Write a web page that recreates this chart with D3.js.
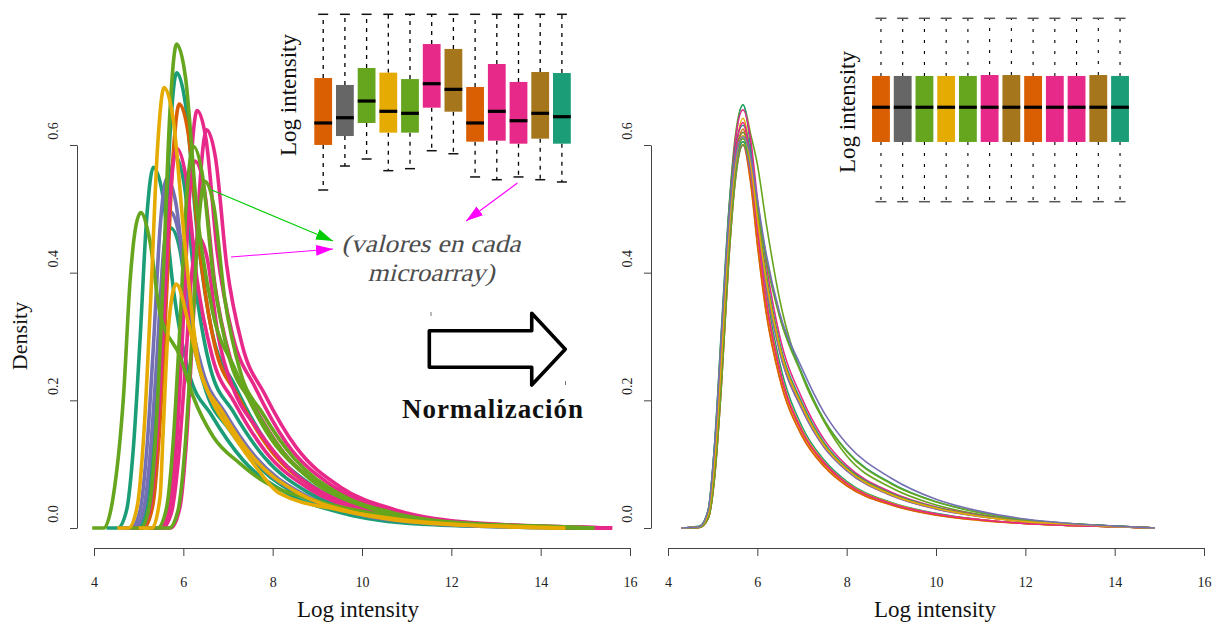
<!DOCTYPE html>
<html>
<head>
<meta charset="utf-8">
<script src="https://cdn.jsdelivr.net/npm/d3@7"></script>
<style>
  body { margin: 0; background: #fff; }
  svg { display: block; }
  text { font-family: "Liberation Serif", "DejaVu Serif", serif; }
</style>
</head>
<body>
<svg id="chart" width="1221" height="623"></svg>
<script>
// ---- data ----
const xTicks = [4, 6, 8, 10, 12, 14, 16];
const yTicks = [0, 0.2, 0.4, 0.6];

// raw densities, one knot list per microarray (drawn in this order)
const rawColors = ["#1B9E77", "#1B9E77", "#7570B3", "#1B9E77", "#7570B3", "#1B9E77", "#D95F02",
  "#E7298A", "#E7298A", "#E7298A", "#E7298A", "#E7298A",
  "#66A61E", "#66A61E", "#66A61E", "#66A61E", "#E6AB02", "#E6AB02"];
const rawX = [
  [4.28, 4.53, 4.73, 4.88, 5.03, 5.18, 5.33, 5.53, 5.78, 6.13, 6.63, 7.33, 8.33, 9.53, 11.33, 13.33, 14.9],
  [4.67, 4.92, 5.12, 5.27, 5.42, 5.57, 5.72, 5.92, 6.17, 6.52, 7.02, 7.72, 8.72, 9.92, 11.72, 13.72, 14.9],
  [4.65, 4.90, 5.10, 5.25, 5.40, 5.55, 5.70, 5.90, 6.15, 6.50, 7.00, 7.70, 8.70, 9.90, 11.70, 13.70, 14.8],
  [4.76, 5.01, 5.21, 5.36, 5.51, 5.66, 5.81, 6.01, 6.26, 6.61, 7.11, 7.81, 8.81, 10.01, 11.81, 13.81, 14.9],
  [4.58, 4.83, 5.03, 5.18, 5.33, 5.48, 5.63, 5.83, 6.08, 6.43, 6.93, 7.63, 8.63, 9.83, 11.63, 13.63, 14.8],
  [4.80, 5.05, 5.25, 5.40, 5.55, 5.70, 5.85, 6.05, 6.30, 6.65, 7.15, 7.85, 8.85, 10.05, 11.85, 13.85, 14.9],
  [4.86, 5.11, 5.31, 5.46, 5.61, 5.76, 5.91, 6.11, 6.36, 6.71, 7.21, 7.91, 8.91, 10.11, 11.91, 13.91, 14.7],
  [5.28, 5.53, 5.73, 5.88, 6.03, 6.18, 6.33, 6.53, 6.78, 7.13, 7.63, 8.33, 9.33, 10.53, 12.33, 14.33, 15.6],
  [4.80, 5.05, 5.25, 5.40, 5.55, 5.70, 5.85, 6.05, 6.30, 6.65, 7.15, 7.85, 8.85, 10.05, 11.85, 13.85, 15.4],
  [5.21, 5.46, 5.66, 5.81, 5.96, 6.11, 6.26, 6.46, 6.71, 7.06, 7.56, 8.26, 9.26, 10.46, 12.26, 14.26, 15.6],
  [5.47, 5.72, 5.92, 6.07, 6.22, 6.37, 6.52, 6.72, 6.97, 7.32, 7.82, 8.52, 9.52, 10.72, 12.52, 14.52, 15.6],
  [5.26, 5.51, 5.71, 5.86, 6.01, 6.16, 6.31, 6.51, 6.76, 7.11, 7.61, 8.31, 9.31, 10.51, 12.31, 14.31, 15.6],
  [3.96, 4.22, 4.43, 4.66, 4.81, 4.93, 5.05, 5.25, 5.48, 5.93, 6.22, 6.67, 7.27, 7.87, 8.91, 10.5, 12.5, 15.2],
  [4.80, 5.05, 5.25, 5.40, 5.55, 5.70, 5.85, 6.05, 6.30, 6.65, 7.15, 7.85, 8.85, 10.05, 11.85, 13.85, 15.2],
  [5.17, 5.42, 5.62, 5.77, 5.92, 6.07, 6.22, 6.42, 6.67, 7.02, 7.52, 8.22, 9.22, 10.42, 12.22, 14.22, 15.2],
  [5.43, 5.68, 5.88, 6.03, 6.18, 6.33, 6.48, 6.68, 6.93, 7.28, 7.78, 8.48, 9.48, 10.68, 12.48, 14.48, 15.2],
  [4.52, 4.77, 4.97, 5.12, 5.27, 5.42, 5.57, 5.77, 6.02, 6.37, 6.87, 7.57, 8.57, 9.77, 11.57, 13.57, 14.55],
  [5.0, 5.3, 5.48, 5.55, 5.66, 5.84, 6.15, 6.37, 6.67, 7.04, 7.57, 8.16, 9.51, 11.0, 12.5, 14.55]
];
const rawY = [
  [0, 0, .028, .124, .294, .486, .565, .525, .373, .242, .177, .107, .054, .024, .006, .002, 0],
  [0, 0, .024, .103, .244, .404, .470, .437, .310, .212, .155, .094, .047, .021, .006, .001, 0],
  [0, 0, .025, .109, .258, .427, .496, .461, .327, .223, .164, .099, .050, .022, .006, .001, 0],
  [0, 0, .029, .128, .303, .501, .583, .542, .385, .249, .183, .111, .055, .025, .007, .002, 0],
  [0, 0, .027, .121, .285, .471, .548, .510, .362, .247, .181, .110, .055, .025, .007, .002, 0],
  [0, 0, .036, .157, .371, .613, .713, .663, .471, .305, .224, .135, .068, .030, .008, .002, 0],
  [0, 0, .033, .146, .345, .571, .664, .618, .438, .284, .208, .126, .063, .028, .008, .002, 0],
  [0, 0, .023, .100, .237, .392, .456, .424, .301, .216, .158, .096, .048, .022, .006, .001, 0],
  [0, 0, .030, .131, .309, .512, .595, .553, .393, .268, .196, .119, .060, .027, .007, .002, 0],
  [0, 0, .029, .127, .299, .495, .575, .535, .380, .264, .194, .117, .059, .026, .007, .002, 0],
  [0, 0, .031, .137, .324, .537, .624, .580, .412, .286, .210, .127, .064, .029, .008, .002, 0],
  [0, 0, .033, .144, .340, .562, .654, .608, .432, .300, .220, .133, .067, .030, .008, .002, 0],
  [0, 0, .049, .206, .389, .470, .494, .450, .336, .268, .206, .143, .101, .070, .044, .020, .006, 0],
  [0, 0, .038, .167, .394, .652, .758, .705, .500, .341, .250, .152, .076, .034, .009, .002, 0],
  [0, 0, .030, .132, .311, .514, .598, .556, .395, .269, .197, .120, .060, .027, .007, .002, 0],
  [0, 0, .027, .119, .282, .467, .543, .505, .358, .244, .179, .109, .054, .024, .007, .002, 0],
  [0, 0, .035, .152, .359, .593, .690, .642, .455, .248, .182, .110, .055, .025, .007, .002, 0],
  [0, 0, .049, .154, .310, .382, .310, .248, .195, .154, .101, .054, .028, .012, .004, 0]
];

// normalized densities, all on one grid
const normGrid = [4.3, 4.7, 4.9, 5.05, 5.2, 5.35, 5.5, 5.68, 5.85, 6.0, 6.2, 6.5, 7.0, 7.5, 8.0, 9.0, 10.0, 11.0, 12.0, 13.0, 14.0, 14.9];
const normColors = ["#66A61E", "#1B9E77", "#E7298A", "#E6AB02", "#1B9E77", "#D95F02", "#E7298A", "#66A61E",
  "#E6AB02", "#D95F02", "#E7298A", "#1B9E77", "#66A61E", "#7570B3", "#E7298A", "#66A61E", "#E6AB02", "#7570B3"];
const normY = [
  [0, .002, .023, .119, .292, .484, .610, .663, .617, .570, .477, .358, .239, .166, .113, .063, .036, .021, .011, .006, .003, 0],
  [0, .001, .017, .093, .252, .451, .597, .663, .597, .491, .371, .259, .159, .106, .073, .040, .023, .013, .007, .004, .002, 0],
  [0, .002, .023, .118, .288, .478, .603, .655, .609, .517, .413, .301, .203, .138, .098, .056, .033, .020, .011, .006, .003, 0],
  [0, .001, .016, .090, .244, .437, .578, .642, .578, .475, .360, .250, .154, .103, .071, .039, .022, .013, .007, .004, .002, 0],
  [0, .003, .028, .139, .316, .486, .593, .631, .587, .498, .398, .290, .196, .133, .095, .054, .032, .019, .011, .006, .003, 0],
  [0, .001, .016, .088, .238, .425, .563, .625, .563, .463, .350, .244, .150, .100, .069, .038, .021, .013, .007, .004, .002, 0],
  [0, .002, .022, .112, .273, .453, .570, .620, .577, .490, .391, .285, .192, .130, .093, .053, .031, .019, .011, .006, .002, 0],
  [0, .002, .021, .110, .268, .445, .561, .610, .567, .482, .384, .281, .189, .128, .092, .052, .031, .018, .010, .005, .002, 0],
  [0, .001, .015, .085, .230, .411, .545, .605, .545, .448, .339, .236, .145, .097, .067, .036, .021, .012, .007, .004, .002, 0],
  [0, .002, .021, .108, .264, .438, .552, .600, .540, .444, .336, .234, .144, .096, .066, .036, .020, .012, .007, .004, .002, 0],
  [0, .001, .015, .084, .228, .408, .540, .600, .558, .474, .378, .276, .186, .126, .090, .051, .030, .018, .010, .005, .002, 0],
  [0, .002, .027, .133, .303, .466, .569, .605, .575, .508, .424, .333, .242, .169, .121, .070, .041, .024, .013, .007, .003, 0],
  [0, .002, .028, .136, .310, .477, .583, .620, .577, .490, .391, .285, .192, .130, .093, .053, .031, .019, .011, .006, .002, 0],
  [0, .002, .021, .108, .264, .438, .552, .600, .558, .474, .378, .276, .186, .126, .090, .051, .030, .018, .010, .005, .002, 0],
  [0, .002, .022, .114, .279, .464, .584, .635, .572, .470, .356, .248, .152, .102, .070, .038, .022, .013, .007, .004, .002, 0],
  [0, .001, .015, .084, .228, .408, .540, .600, .570, .504, .420, .330, .240, .168, .120, .069, .041, .024, .013, .007, .003, 0],
  [0, .002, .022, .111, .271, .449, .566, .615, .572, .486, .387, .283, .191, .129, .092, .052, .031, .018, .010, .006, .002, 0],
  [0, .002, .028, .135, .307, .472, .576, .613, .582, .515, .429, .337, .250, .180, .132, .078, .045, .026, .014, .007, .003, 0]
];

// inset boxplots (log intensity), 12 arrays
const boxColors = ["#D95F02", "#666666", "#66A61E", "#E6AB02", "#66A61E", "#E7298A",
  "#A6761D", "#D95F02", "#E7298A", "#E7298A", "#A6761D", "#1B9E77"];
const rawLow = [2.0, 3.91, 4.47, 3.54, 3.70, 5.13, 4.89, 3.04, 2.82, 3.04, 2.82, 2.64];
const rawQ1 = [5.59, 6.30, 7.34, 6.57, 6.57, 8.56, 8.24, 5.85, 5.93, 5.69, 6.09, 5.69];
const rawMed = [7.34, 7.76, 9.09, 8.27, 8.11, 10.47, 10.02, 7.34, 8.27, 7.52, 8.11, 7.84];
const rawQ3 = [10.92, 10.37, 11.72, 11.35, 10.84, 13.63, 13.24, 10.21, 12.04, 10.61, 11.40, 11.32];
const rawHigh = [16, 16, 16, 16, 16, 16, 16, 16, 16, 16, 16, 16];
const normLow = [2, 2, 2, 2, 2, 2, 2, 2, 2, 2, 2, 2];
const normQ1 = [6.56, 6.56, 6.56, 6.56, 6.56, 6.56, 6.56, 6.56, 6.56, 6.56, 6.56, 6.56];
const normMed = [9.21, 9.21, 9.21, 9.21, 9.21, 9.21, 9.21, 9.21, 9.21, 9.21, 9.21, 9.21];
const normQ3 = [11.6, 11.6, 11.6, 11.6, 11.6, 11.67, 11.67, 11.6, 11.6, 11.6, 11.67, 11.6];
const normHigh = [16, 16, 16, 16, 16, 16, 16, 16, 16, 16, 16, 16];

// ---- drawing ----
const svg = d3.select("#chart");
const axisColor = "#444";

const y = d3.scaleLinear().domain([0, 0.6]).range([528, 145]);
const xL = d3.scaleLinear().domain([4, 16]).range([94, 630]);
const xR = d3.scaleLinear().domain([4, 16]).range([668, 1204]);

function drawAxes(x, axisX, titleX) {
  const gx = svg.append("g")
    .attr("transform", "translate(0,548)")
    .call(d3.axisBottom(x).tickValues(xTicks).tickSize(8).tickSizeOuter(0).tickPadding(21).tickFormat(d3.format("d")));
  gx.select(".domain").attr("stroke", axisColor);
  gx.selectAll(".tick line").attr("stroke", axisColor);
  gx.selectAll(".tick text").attr("font-size", 14).attr("fill", "#222")
    .attr("font-family", "Liberation Serif");

  const gy = svg.append("g")
    .attr("transform", `translate(${axisX},0)`)
    .call(d3.axisLeft(y).tickValues(yTicks).tickSize(7).tickSizeOuter(0).tickFormat(""));
  gy.select(".domain").attr("stroke", axisColor);
  gy.selectAll(".tick line").attr("stroke", axisColor);

  svg.append("g").selectAll("text")
    .data(yTicks)
    .join("text")
    .attr("transform", (d) => `translate(${axisX - 19},${y(d) - 14}) rotate(-90)`)
    .attr("text-anchor", "middle")
    .attr("font-size", 14)
    .attr("fill", "#222")
    .text((d) => d.toFixed(1));

  svg.append("text")
    .attr("x", titleX)
    .attr("y", 617)
    .attr("text-anchor", "middle")
    .attr("font-size", 23)
    .attr("fill", "#111")
    .text("Log intensity");
}

drawAxes(xL, 77, 358);
drawAxes(xR, 651, 935);

svg.append("text")
  .attr("transform", "translate(27,336) rotate(-90)")
  .attr("text-anchor", "middle")
  .attr("font-size", 22)
  .attr("fill", "#111")
  .text("Density");

// density curves
const lineL = d3.line().x((d) => xL(d[0])).y((d) => y(d[1])).curve(d3.curveMonotoneX);
const lineR = d3.line().x((d) => xR(d[0])).y((d) => y(d[1])).curve(d3.curveMonotoneX);

svg.append("g")
  .selectAll("path")
  .data(rawX.map((xs, i) => xs.map((v, j) => [v, rawY[i][j]])))
  .join("path")
  .attr("d", lineL)
  .attr("fill", "none")
  .attr("stroke", (d, i) => rawColors[i])
  .attr("stroke-width", 3.6)
  .attr("stroke-linejoin", "round");

svg.append("g")
  .selectAll("path")
  .data(normY.map((ys) => normGrid.map((v, j) => [v, ys[j]])))
  .join("path")
  .attr("d", lineR)
  .attr("fill", "none")
  .attr("stroke", (d, i) => normColors[i])
  .attr("stroke-width", 1.6)
  .attr("stroke-linejoin", "round");

// inset boxplots
function drawInset(opts) {
  const bx = d3.scaleBand().domain(d3.range(12)).range(opts.xr).paddingInner(0.18).paddingOuter(0.09);
  const by = d3.scaleLinear().domain([2, 16]).range(opts.yr);
  const g = svg.append("g");
  const idx = d3.range(12);
  const cx = (i) => bx(i) + bx.bandwidth() / 2;

  // whiskers
  g.selectAll(".wu").data(idx).join("line")
    .attr("x1", cx).attr("x2", cx)
    .attr("y1", (i) => by(opts.q3[i])).attr("y2", (i) => by(opts.high[i]))
    .attr("stroke", "#000").attr("stroke-width", opts.ww).attr("stroke-dasharray", opts.dash);
  g.selectAll(".wl").data(idx).join("line")
    .attr("x1", cx).attr("x2", cx)
    .attr("y1", (i) => by(opts.q1[i])).attr("y2", (i) => by(opts.low[i]))
    .attr("stroke", "#000").attr("stroke-width", opts.ww).attr("stroke-dasharray", opts.dash);
  // caps
  [opts.high, opts.low].forEach((arr) => {
    g.append("g").selectAll("line").data(idx).join("line")
      .attr("x1", (i) => cx(i) - opts.cap).attr("x2", (i) => cx(i) + opts.cap)
      .attr("y1", (i) => by(arr[i])).attr("y2", (i) => by(arr[i]))
      .attr("stroke", opts.capColor).attr("stroke-width", 1.5);
  });
  // boxes
  g.selectAll("rect").data(idx).join("rect")
    .attr("x", (i) => bx(i))
    .attr("width", bx.bandwidth())
    .attr("y", (i) => by(opts.q3[i]))
    .attr("height", (i) => by(opts.q1[i]) - by(opts.q3[i]))
    .attr("fill", (i) => boxColors[i]);
  // medians
  g.selectAll(".med").data(idx).join("line")
    .attr("x1", (i) => bx(i)).attr("x2", (i) => bx(i) + bx.bandwidth())
    .attr("y1", (i) => by(opts.med[i])).attr("y2", (i) => by(opts.med[i]))
    .attr("stroke", "#000").attr("stroke-width", 3.2);

  svg.append("text")
    .attr("transform", `translate(${opts.labelX},${opts.labelY}) rotate(-90)`)
    .attr("text-anchor", "middle")
    .attr("font-size", 23)
    .attr("fill", "#111")
    .text("Log intensity");
}

drawInset({
  xr: [312.35, 572.75], yr: [190, 14.3],
  low: rawLow, q1: rawQ1, med: rawMed, q3: rawQ3, high: rawHigh,
  dash: "4,5", ww: 1.3, cap: 5, capColor: "#111",
  labelX: 296, labelY: 95
});
drawInset({
  xr: [870.1, 1130.9], yr: [201.7, 18.3],
  low: normLow, q1: normQ1, med: normMed, q3: normQ3, high: normHigh,
  dash: "3,8", ww: 1.1, cap: 5.5, capColor: "#555",
  labelX: 855, labelY: 112
});

// annotations (in left-panel data units)
const arrowNotes = [
  { color: "#00CC00", id: "hg", from: [6.635, 0.5295], to: [9.35, 0.4496] },
  { color: "#FF00FF", id: "hm", from: [7.067, 0.4245], to: [9.35, 0.437] },
  { color: "#FF00FF", id: "hm", from: [13.48, 0.5405], to: [12.33, 0.481] }
];
const defs = svg.append("defs");
[["hg", "#00CC00"], ["hm", "#FF00FF"]].forEach(([id, c]) => {
  defs.append("marker")
    .attr("id", id)
    .attr("viewBox", "0 0 17 11")
    .attr("refX", 17).attr("refY", 5.5)
    .attr("markerWidth", 17).attr("markerHeight", 11)
    .attr("markerUnits", "userSpaceOnUse")
    .attr("orient", "auto")
    .append("path").attr("d", "M0,0L17,5.5L0,11Z").attr("fill", c);
});
svg.append("g").selectAll("line")
  .data(arrowNotes)
  .join("line")
  .attr("x1", (d) => xL(d.from[0])).attr("y1", (d) => y(d.from[1]))
  .attr("x2", (d) => xL(d.to[0])).attr("y2", (d) => y(d.to[1]))
  .attr("stroke", (d) => d.color)
  .attr("stroke-width", 1.1)
  .attr("marker-end", (d) => `url(#${d.id})`);

// slanted serif text (no serif italic face is available)
const noteLines = [
  { text: "(valores en cada", x: 11.545, y: 0.4324, len: 179 },
  { text: "microarray)", x: 11.545, y: 0.3876, len: 127 }
];
svg.append("g").selectAll("text")
  .data(noteLines)
  .join("text")
  .attr("transform", (d) => `translate(${xL(d.x)},${y(d.y)}) skewX(-14)`)
  .attr("text-anchor", "middle")
  .attr("font-size", 25)
  .attr("fill", "#4d4d4d")
  .attr("textLength", (d) => d.len)
  .attr("lengthAdjust", "spacingAndGlyphs")
  .text((d) => d.text);

// big block arrow
const blockArrow = [[11.507, 0.309], [13.80, 0.309], [13.80, 0.3364], [14.55, 0.28],
  [13.80, 0.224], [13.80, 0.2518], [11.507, 0.2518]];
svg.append("path")
  .attr("d", d3.line().x((d) => xL(d[0])).y((d) => y(d[1]))(blockArrow) + "Z")
  .attr("fill", "#fff")
  .attr("stroke", "#000")
  .attr("stroke-width", 3.6)
  .attr("stroke-linejoin", "round");
// two tiny stray marks near the arrow
svg.append("line").attr("x1", 431).attr("x2", 431).attr("y1", 312).attr("y2", 316).attr("stroke", "#777");
svg.append("line").attr("x1", 565.5).attr("x2", 565.5).attr("y1", 381).attr("y2", 385).attr("stroke", "#777");

svg.append("text")
  .attr("x", 492.5)
  .attr("y", 418)
  .attr("text-anchor", "middle")
  .attr("font-size", 27)
  .attr("font-weight", "bold")
  .attr("fill", "#111")
  .attr("textLength", 181)
  .attr("lengthAdjust", "spacing")
  .text("Normalización");
</script>
</body>
</html>
